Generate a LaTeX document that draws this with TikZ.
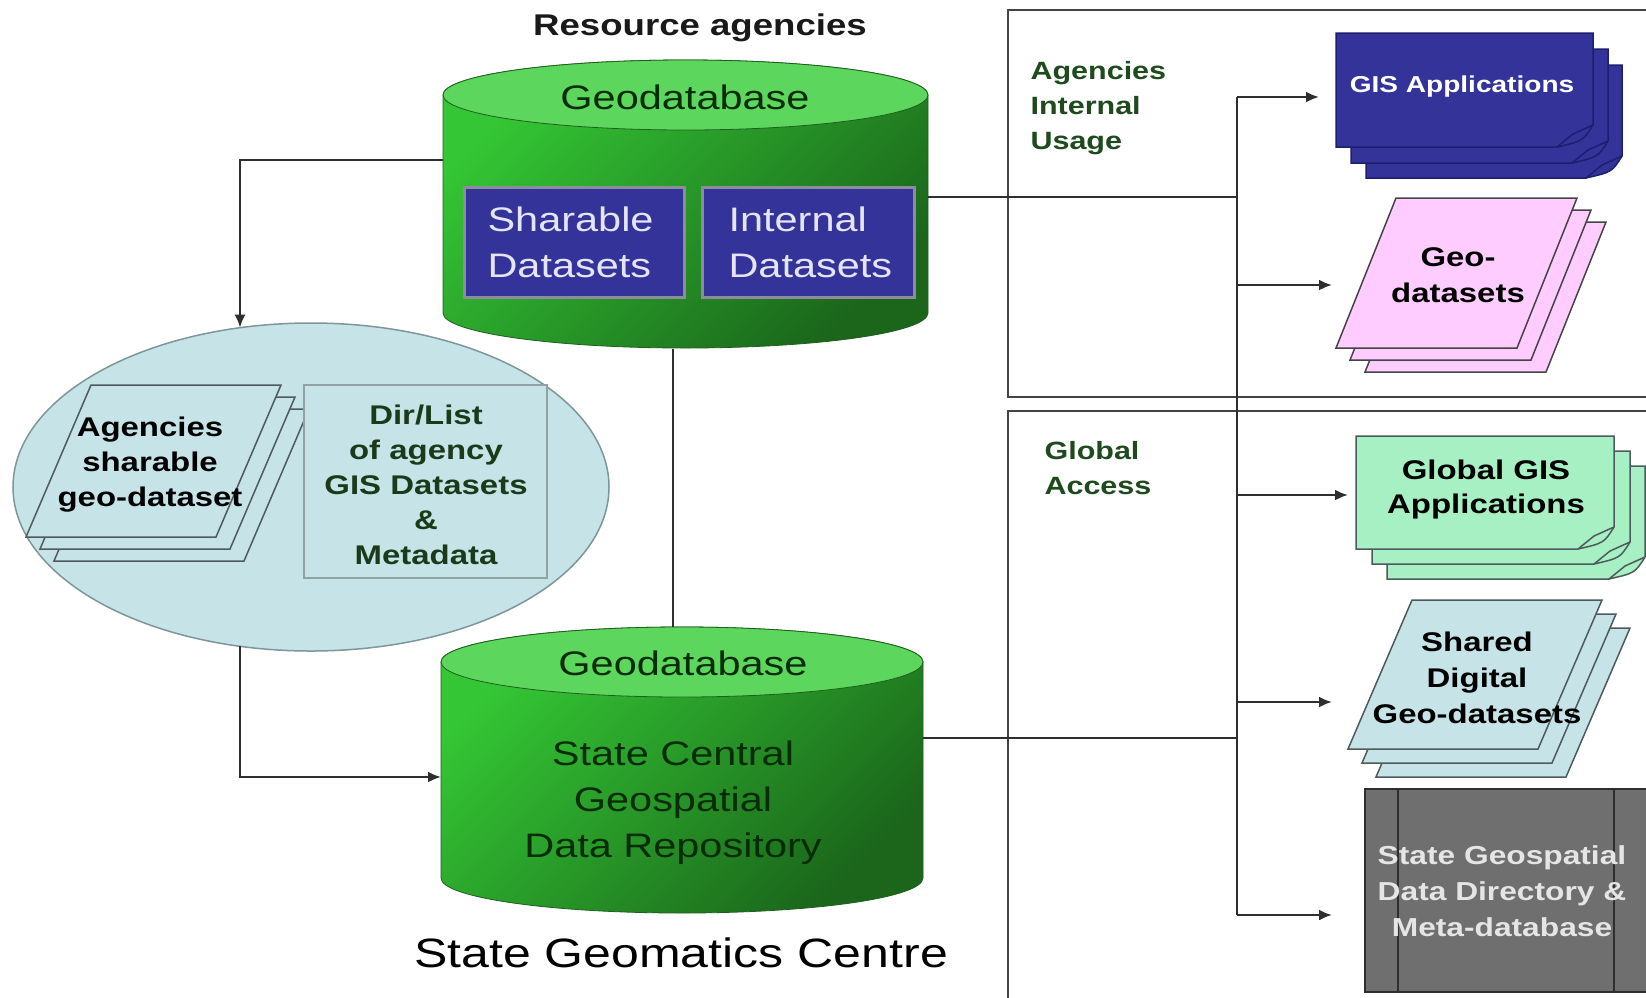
\documentclass[tikz,border=0pt]{standalone}
\usepackage{fontspec}
\setmainfont[FakeStretch=1.22]{Liberation Sans}
\usetikzlibrary{arrows.meta,shapes.geometric}

\definecolor{cylLight}{HTML}{34C634}
\definecolor{cylDark}{HTML}{1B661B}
\definecolor{cylTop}{HTML}{5CD65C}
\definecolor{cylEdge}{HTML}{1F5F1F}
\definecolor{dbText}{HTML}{082C08}
\definecolor{navy}{HTML}{333399}
\definecolor{navyRim}{HTML}{1E1E70}
\definecolor{boxRim}{HTML}{8C8C9C}
\definecolor{setText}{HTML}{E4E4F4}
\definecolor{paleBlue}{HTML}{C6E4E8}
\definecolor{ellRim}{HTML}{7F9699}
\definecolor{sheetRim}{HTML}{4E5A5C}
\definecolor{dirRim}{HTML}{8FA3A5}
\definecolor{dirGreen}{HTML}{1A3A1A}
\definecolor{docPink}{HTML}{FFCCFF}
\definecolor{mint}{HTML}{A6F0C4}
\definecolor{slate}{HTML}{6F6F6F}
\definecolor{slateRim}{HTML}{2E2E2E}
\definecolor{lineGray}{HTML}{2E2E2E}
\definecolor{frameGray}{HTML}{444444}
\definecolor{labelGreen}{HTML}{1E4A1E}

% stacked document sheet with a curled lower-right corner: style, left, top, right, bottom
\newcommand\stackdoc[5]{%
  \filldraw[#1] (#2,#3) -- (#4,#3) -- (#4,#5-22) .. controls (#4-10,#5-6) .. (#4-36,#5) -- (#2,#5) -- cycle;
  \draw[#1,fill=none] (#4,#5-22) -- (#4-20,#5-13) -- (#4-36,#5);}
% slanted data sheet: style, top-left x, top-left y, width, height, slant
\newcommand\paradoc[6]{%
  \filldraw[#1] (#2,#3) -- ++(#4,0) -- ++(-#6,#5) -- ++(-#4,0) -- cycle;}

\begin{document}
\begin{tikzpicture}[x=1pt,y=-1pt,
  conn/.style={draw=lineGray,line width=2.3pt},
  arr/.style={-{Latex[length=13pt,width=11pt]}},
  ph/.style={inner sep=0pt,outer sep=0pt},
  frame/.style={draw=frameGray,line width=2pt},
  cylbody/.style={left color=cylLight,right color=cylDark,shading angle=45,draw=cylEdge,line width=0.8pt},
  cyltop/.style={fill=cylTop,draw=cylEdge,line width=0.8pt},
  dbtxt/.style={text=dbText,font=\fontsize{34}{46}\selectfont,align=center},
  boldtxt/.style={font=\bfseries\fontsize{27}{35}\selectfont,align=center},
  labeltxt/.style={text=labelGreen,font=\bfseries\fontsize{25}{35}\selectfont,align=left,anchor=west},
  setbox/.style={ph,fill=navy,draw=boxRim,line width=3pt},
  settxt/.style={text=setText,font=\fontsize{34}{46}\selectfont,align=left,anchor=west},
  pale/.style={fill=paleBlue,draw=sheetRim,line width=1.5pt},
  pinkdoc/.style={fill=docPink,draw=frameGray,line width=1.5pt},
  navydoc/.style={fill=navy,draw=navyRim,line width=1.5pt},
  mintdoc/.style={fill=mint,draw=sheetRim,line width=1.5pt},
]
\useasboundingbox (0,0) rectangle (1646,997);
\clip (0,0) rectangle (1646,997);
\fill[white] (0,0) rectangle (1646,997);

% usage frames on the right
\draw[frame] (1008,10) rectangle (1700,397);
\draw[frame] (1008,411) rectangle (1700,1050);

% ---------- agency geodatabase ----------
\node[font=\bfseries\fontsize{30}{36}\selectfont,text=black!90] (agencies) at (700,28) {Resource agencies};
\node[ph,minimum width=485pt,minimum height=290pt] (topdb) at (685.5,204) {};
\shadedraw[cylbody] (443,95) -- (443,313) arc[start angle=180,end angle=0,x radius=242.5,y radius=35]
  -- (928,95) arc[start angle=0,end angle=-180,x radius=242.5,y radius=35] -- cycle;
\filldraw[cyltop] (685.5,95) ellipse[x radius=242.5,y radius=35];
\node[dbtxt] (topname) at (685,97) {Geodatabase};
\node[setbox,minimum width=220pt,minimum height=110pt] (sharebox) at (574,242) {};
\node[settxt] (sharetxt) at (484,242) {Sharable\\Datasets};
\node[setbox,minimum width=212pt,minimum height=110pt] (intbox) at (808,242) {};
\node[settxt] (inttxt) at (725,242) {Internal\\Datasets};

% ---------- shared catalogue ellipse ----------
\node[ellipse,ph,fill=paleBlue,draw=ellRim,line width=1.5pt,minimum width=596pt,minimum height=328pt] (shareell) at (311,487) {};
\paradoc{pale}{119}{409}{190}{152}{65}
\paradoc{pale}{105}{397}{190}{152}{65}
\paradoc{pale}{91}{385}{190}{152}{65}
\node[boldtxt,text=black] (agtxt) at (150,465) {Agencies\\sharable\\geo-dataset};
\node[ph,fill=paleBlue,draw=dirRim,line width=1.5pt,minimum width=243pt,minimum height=193pt] (dirlist) at (425.5,481.5) {};
\node[boldtxt,text=dirGreen] (dirtxt) at (426,485) {Dir/List\\of agency\\GIS Datasets\\\&\\Metadata};

% ---------- central repository ----------
\node[ph,minimum width=482pt,minimum height=286pt] (botdb) at (682,770) {};
\shadedraw[cylbody] (441,662) -- (441,878) arc[start angle=180,end angle=0,x radius=241,y radius=35]
  -- (923,662) arc[start angle=0,end angle=-180,x radius=241,y radius=35] -- cycle;
\filldraw[cyltop] (682,662) ellipse[x radius=241,y radius=35];
\node[dbtxt] (botname) at (683,663) {Geodatabase};
\node[dbtxt] (repotxt) at (673,803) {State Central\\Geospatial\\Data Repository};
\node[font=\fontsize{41}{48}\selectfont,text=black] (centre) at (681,953) {State Geomatics Centre};

% ---------- internal usage ----------
\node[labeltxt] (intlabel) at (1027,108) {Agencies\\Internal\\Usage};
\stackdoc{navydoc}{1366}{65}{1622}{178}
\stackdoc{navydoc}{1351}{49}{1608}{163}
\stackdoc{navydoc}{1336}{33}{1593}{147}
\node[font=\bfseries\fontsize{23}{28}\selectfont,text=white] (gistxt) at (1462,87) {GIS Applications};
\paradoc{pinkdoc}{1425}{222}{181}{150}{60}
\paradoc{pinkdoc}{1410}{210}{181}{150}{60}
\paradoc{pinkdoc}{1396}{198}{181}{150}{60}
\node[boldtxt,text=black,font=\bfseries\fontsize{27}{36}\selectfont] (geotxt) at (1458,275) {Geo-\\datasets};

% ---------- global access ----------
\node[labeltxt] (globlabel) at (1041,468) {Global\\Access};
\stackdoc{mintdoc}{1387}{466}{1645}{579}
\stackdoc{mintdoc}{1372}{451}{1630}{564}
\stackdoc{mintdoc}{1356}{436}{1614}{549}
\node[boldtxt,text=black,font=\bfseries\fontsize{27}{34}\selectfont] (globtxt) at (1486,490) {Global GIS\\Applications};
\paradoc{pale}{1440}{628}{190}{149}{64}
\paradoc{pale}{1426}{614}{190}{149}{64}
\paradoc{pale}{1412}{600}{190}{149}{64}
\node[boldtxt,text=black,font=\bfseries\fontsize{27}{36}\selectfont] (sharedtxt) at (1477,678) {Shared\\Digital\\Geo-datasets};
\node[ph,fill=slate,draw=slateRim,line width=2pt,minimum width=282pt,minimum height=203pt] (sgdd) at (1506,890.5) {};
\draw[draw=slateRim,line width=2pt] (1398,789) -- (1398,992) (1614,789) -- (1614,992);
\node[boldtxt,text=black!10,font=\bfseries\fontsize{26}{36}\selectfont] (sgddtxt) at (1502,891) {State Geospatial\\Data Directory \&\\Meta-database};

% ---------- connectors ----------
\coordinate (jL) at (240,160);
\coordinate (jB) at (240,777);
\coordinate (midV) at (673,0);
\coordinate (busT) at (1237,97);
\coordinate (busB) at (1237,915);
\coordinate (tapA) at (1237,197);
\coordinate (tapB) at (1237,738);
\coordinate (gisIn) at (1319,97);
\coordinate (geoIn) at (1332,285);
\coordinate (globIn) at (1348,495);
\coordinate (sharedIn) at (1332,702);
\coordinate (dirIn) at (1332,915);

\draw[conn,arr] (topdb.west |- jL) -- (jL) -- (jL |- shareell.114);
\draw[conn,arr] (jB |- shareell.246) -- (jB) -- (botdb.west |- jB);
\draw[conn] (midV |- topdb.south) -- (midV |- botdb.north);
\draw[conn] (topdb.east |- tapA) -- (tapA);
\draw[conn] (botdb.east |- tapB) -- (tapB);
\draw[conn] (busT) -- (busB);
\draw[conn,arr] (busT) -- (gisIn);
\draw[conn,arr] (busT |- geoIn) -- (geoIn);
\draw[conn,arr] (busT |- globIn) -- (globIn);
\draw[conn,arr] (busT |- sharedIn) -- (sharedIn);
\draw[conn,arr] (busB) -- (dirIn);
\end{tikzpicture}
\end{document}
